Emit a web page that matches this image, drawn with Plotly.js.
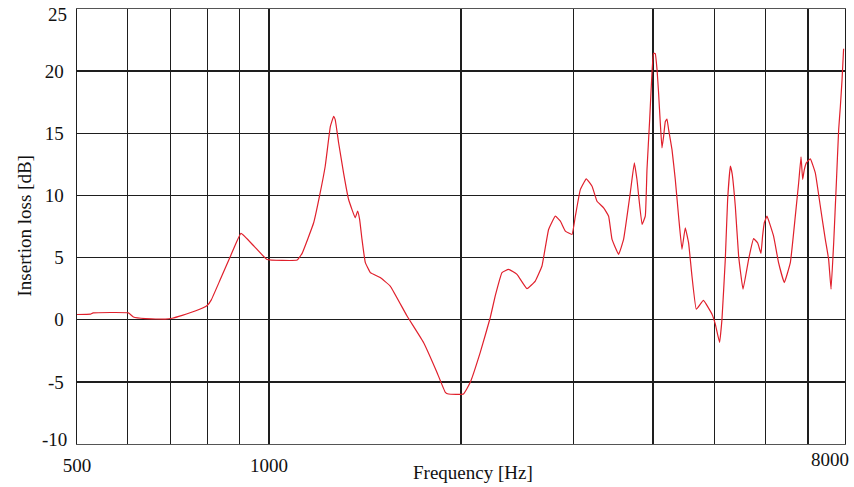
<!DOCTYPE html>
<html>
<head>
<meta charset="utf-8">
<script src="https://cdn.plot.ly/plotly-3.0.1.min.js"></script>
<style>html,body{margin:0;padding:0;background:#fff;}#chart{width:854px;height:487px;}</style>
</head>
<body>
<div id="chart"></div>
<script>
// Frequency [Hz]
const freq = [500,525,530,602,613,640,688,705,731,766,800,812,839,870,904,948,993,
  1107,1127,1175,1200,1225,1248,1263,1270,1286,1309,1333,1365,1377,1387,1399,1416,1442,1494,1549,1646,1747,1834,1890,1912,
  2018,2068,2144,2223,2263,2319,2375,2448,2538,2615,2679,2744,2811,2863,2915,2986,
  3022,3077,3144,3210,3268,3347,3408,3450,3533,3597,3685,3739,3775,3845,3890,3914,3952,3985,
  4008,4033,4059,4082,4107,4132,4156,4182,4207,4232,4284,4335,4387,4441,4494,4548,4604,4677,4799,4950,
  5009,5087,5131,5193,5237,5288,5321,5384,5449,5536,5649,5751,5835,5907,5941,5978,
  6036,6182,6294,6426,6567,6686,6767,6826,6866,6907,6958,
  7059,7188,7318,7451,7541,7607,7680,7754,7819,7867,7915,7960];
// Insertion loss [dB]
const loss = [0.42,0.45,0.55,0.55,0.22,0.08,0.05,0.12,0.35,0.7,1.15,1.6,3.25,5.1,6.95,5.9,4.85,
  4.8,5.34,7.8,9.94,12.35,15.55,16.36,16.1,14.2,11.8,9.67,8.2,8.73,8.07,6.46,4.59,3.79,3.39,2.71,0.3,-1.83,-4.24,-5.84,-5.98,
  -5.98,-5.04,-2.63,0.18,1.91,3.79,4.05,3.65,2.5,3.11,4.32,7.26,8.33,7.93,7.13,6.86,
  8.33,10.47,11.33,10.74,9.53,9.0,8.33,6.46,5.26,6.46,10.21,12.62,11.28,7.67,8.33,12.08,16.09,19.84,
  21.44,21.4,20.1,18.2,15.8,13.82,14.75,15.95,16.15,15.3,13.68,11.28,8.33,5.66,7.4,6.2,3.52,0.84,1.55,0.44,
  -0.36,-1.83,0.04,4.86,9.67,12.35,11.8,9.13,5.12,2.45,4.86,6.52,6.19,5.34,6.73,7.8,
  8.33,6.73,4.59,2.99,4.59,8.33,11.0,13.1,11.28,12.08,12.62,
  12.94,11.8,9.13,6.46,4.86,2.45,6.19,11.0,15.29,17.16,19.3,21.8];

const xGrid = [500,600,700,800,900,1000,2000,3000,4000,5000,6000,7000,8000];
const xGridText = ['500','','','','','1000','','','','','','',''];
const yTicks = [-10,-5,0,5,10,15,20,25];
const yTickText = ['','-5','0','5','10','15','20',''];
const xTitle = 'Frequency [Hz]';
const yTitle = 'Insertion loss [dB]';

const FONT = '"Liberation Serif", "Times New Roman", serif';
const GRID = '#1e1e1e';
const tf = {family: FONT, size: 19, color: '#111'};

Plotly.newPlot('chart', [{
  x: freq, y: loss, type: 'scatter', mode: 'lines',
  line: {color: '#e0202c', width: 1.2, shape: 'spline', smoothing: 0.3},
  hoverinfo: 'skip'
}], {
  width: 854, height: 487,
  margin: {l: 77, r: 9, t: 9, b: 43},
  paper_bgcolor: '#fff', plot_bgcolor: '#fff',
  showlegend: false,
  font: tf,
  xaxis: {
    type: 'log', range: [Math.log10(500), Math.log10(8000)],
    tickmode: 'array', tickvals: xGrid, ticktext: xGridText,
    showgrid: true, gridcolor: GRID, gridwidth: 1.3,
    showline: true, linecolor: '#555', linewidth: 1.4, mirror: true,
    ticks: '', ticklabelstandoff: 4, zeroline: false,
    tickfont: tf
  },
  yaxis: {
    range: [-10, 25], tickmode: 'array', tickvals: yTicks, ticktext: yTickText,
    showgrid: true, gridcolor: GRID, gridwidth: 1.3,
    showline: true, linecolor: GRID, linewidth: 1.4, mirror: true,
    ticks: '', ticklabelstandoff: 8, zeroline: false,
    tickfont: tf
  },
  annotations: [
    {text: '25', xref: 'paper', yref: 'paper', x: 0, y: 1, xanchor: 'right', yanchor: 'middle',
     xshift: -8, yshift: -5, showarrow: false, font: tf},
    {text: '-10', xref: 'paper', yref: 'paper', x: 0, y: 0, xanchor: 'right', yanchor: 'middle',
     xshift: -8, yshift: 5, showarrow: false, font: tf},
    {text: '8000', xref: 'paper', yref: 'paper', x: 1, y: 0, xanchor: 'right', yanchor: 'top',
     xshift: 6, yshift: -3, showarrow: false, font: tf},
    {text: xTitle, xref: 'paper', yref: 'paper', x: 0.5, y: 0, xanchor: 'center', yanchor: 'top',
     xshift: 12, yshift: -16, showarrow: false, font: tf},
    {text: yTitle, xref: 'paper', yref: 'paper', x: 0, y: 0.5, xanchor: 'center', yanchor: 'middle',
     xshift: -53, yshift: 0, textangle: -90, showarrow: false, font: tf}
  ]
}, {displayModeBar: false, staticPlot: true});
</script>
</body>
</html>
